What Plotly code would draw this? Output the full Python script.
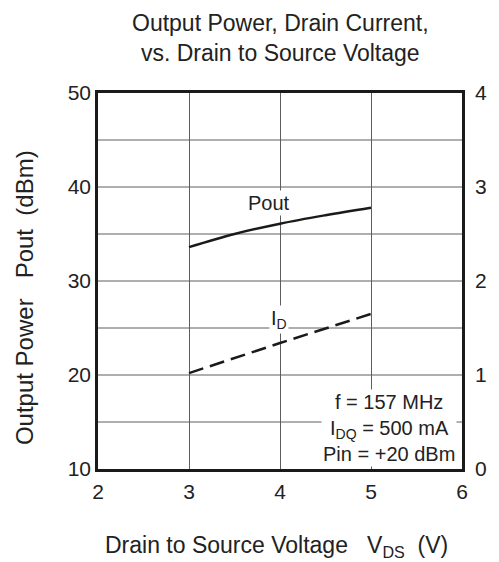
import plotly.graph_objects as go

# Drain to source voltage (V)
vds = [3.0, 3.5, 4.0, 4.5, 5.0]
# Output power (dBm)
pout = [33.6, 35.0, 36.1, 37.0, 37.8]

# Drain current (A), right axis
vds_id = [3.0, 4.0, 5.0]
id_amps = [1.02, 1.34, 1.65]

x_ticks = [2, 3, 4, 5, 6]
y_ticks = [10, 20, 30, 40, 50]
y2_ticks = [0, 1, 2, 3, 4]

FONT = "Liberation Sans, Arial, sans-serif"
NB = "\u00a0"
INK = "#222"

fig = go.Figure()

fig.add_trace(go.Scatter(
    x=vds, y=pout, mode="lines", name="Pout",
    line=dict(color="#1a1a1a", width=2.5, shape="spline"),
))

fig.add_trace(go.Scatter(
    x=vds_id, y=id_amps, mode="lines", name="ID", yaxis="y2",
    line=dict(color="#1a1a1a", width=2.5, dash="15px,7px"),
))

# curve labels and test conditions (white boxes hide the grid behind them)
fig.add_annotation(x=3.88, y=38.3, text="Pout", showarrow=False,
                   font=dict(size=20, color=INK), bgcolor="white")
fig.add_annotation(x=3.99, y=25.9, text="I<sub>D</sub>", showarrow=False,
                   font=dict(size=20, color=INK), bgcolor="white")
fig.add_annotation(
    x=5.2, y=14.4,
    text="f = 157 MHz<br>I<sub>DQ</sub> = 500 mA<br>Pin = +20 dBm",
    showarrow=False, align="center", font=dict(size=20, color=INK),
    bgcolor="white",
)

# chart title and axis titles
fig.add_annotation(
    xref="paper", yref="paper", x=0.5, y=1.227, yanchor="top",
    text="Output Power, Drain Current,<br>vs. Drain to Source Voltage",
    showarrow=False, font=dict(size=23, color=INK),
)
fig.add_annotation(
    xref="paper", yref="paper", x=0.49, y=-0.25,
    text=f"Drain to Source Voltage{NB*3}V<sub>DS</sub>{NB*2}(V)",
    showarrow=False, font=dict(size=23, color=INK),
)
fig.add_annotation(
    xref="paper", yref="paper", x=-0.2, xanchor="center", y=0.455,
    textangle=-90,
    text=f"Output Power{NB*3}Pout{NB*2}(dBm)",
    showarrow=False, font=dict(size=24, color=INK),
)

grid_col = "#5e5e5e"

fig.update_layout(
    width=499, height=562,
    margin=dict(l=98, r=23, t=93, b=93),
    paper_bgcolor="white", plot_bgcolor="white",
    showlegend=False,
    font=dict(family=FONT, size=21, color=INK),
    xaxis=dict(
        range=[2, 6], tickvals=x_ticks, showgrid=True, gridcolor=grid_col,
        gridwidth=1, zeroline=False, showline=True, linecolor="#1a1a1a",
        linewidth=2.5, mirror=True, ticks="", ticklabelstandoff=2,
    ),
    yaxis=dict(
        range=[10, 50], tickvals=y_ticks, showgrid=False,
        zeroline=False, showline=True, linecolor="#1a1a1a", linewidth=2.5,
        mirror=True, ticks="", ticklabelstandoff=0,
    ),
    yaxis2=dict(
        range=[0, 4], tickvals=y2_ticks, overlaying="y", side="right",
        showgrid=False, zeroline=False, showline=False, ticks="",
        ticklabelstandoff=12,
    ),
)

# horizontal grid every 5 dBm
for v in range(15, 50, 5):
    fig.add_hline(y=v, line=dict(color=grid_col, width=1), layer="below")

# page margin off so the 499x562 figure fills the window exactly
fig.write_html(
    "out.html",
    config={"displayModeBar": False},
    post_script="document.body.style.margin='0';document.body.style.overflow='hidden';",
)
